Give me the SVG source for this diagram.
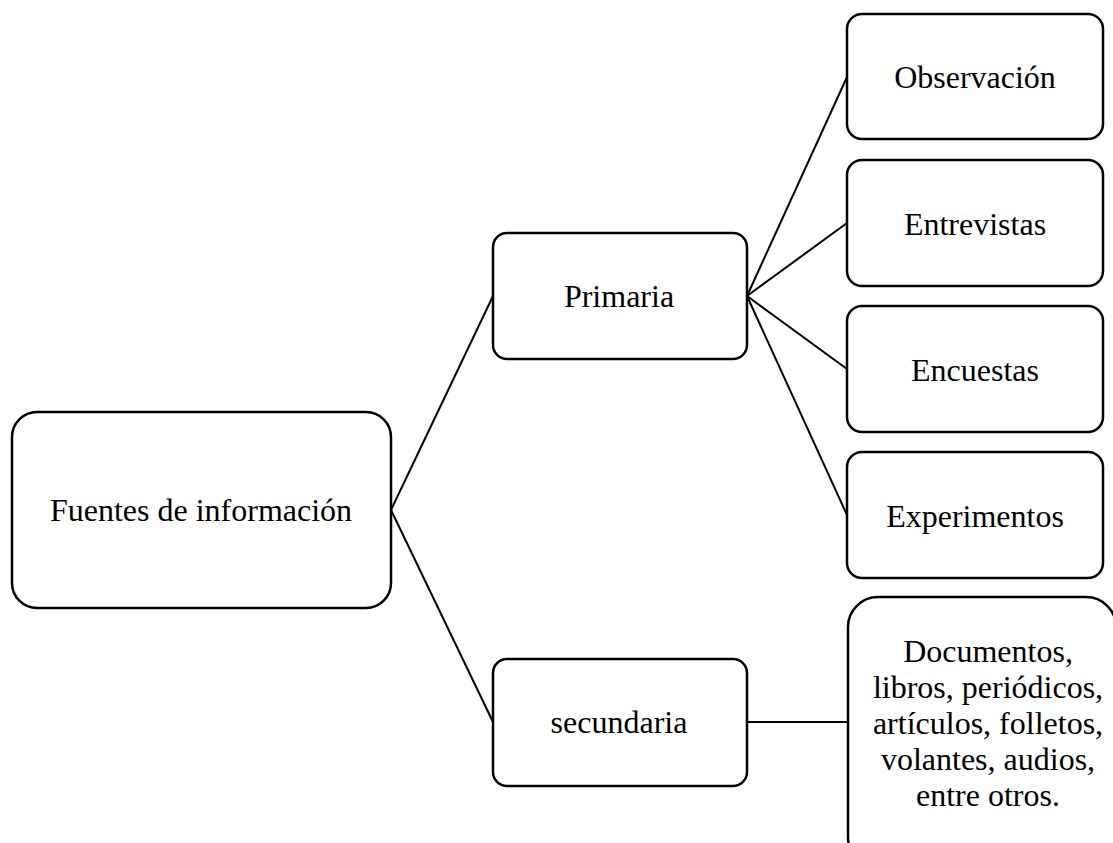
<svg xmlns="http://www.w3.org/2000/svg" width="1113" height="843" viewBox="0 0 1113 843">
<style>
.box{fill:#fff;stroke:#000;stroke-width:2.5}
.t{font-family:"Liberation Serif","Times New Roman",serif;font-size:32px;fill:#000;text-anchor:middle}
.c{stroke:#000;stroke-width:2;fill:none}
</style>
<rect width="1113" height="843" fill="#fff"/>
<g id="connectors">
<line class="c" x1="391" y1="510" x2="493" y2="296"/>
<line class="c" x1="391" y1="510" x2="493" y2="722"/>
<line class="c" x1="747" y1="296" x2="847" y2="77"/>
<line class="c" x1="747" y1="296" x2="847" y2="223"/>
<line class="c" x1="747" y1="296" x2="847" y2="369"/>
<line class="c" x1="747" y1="296" x2="847" y2="515"/>
<line class="c" x1="747" y1="722" x2="848" y2="722"/>
</g>
<g id="root">
<rect class="box" x="12" y="412" width="379" height="196" rx="25"/>
<text class="t" x="201" y="521">Fuentes de información</text>
</g>
<g id="primaria">
<rect class="box" x="493" y="233" width="254" height="126" rx="14"/>
<text class="t" x="619" y="307">Primaria</text>
</g>
<g id="secundaria">
<rect class="box" x="493" y="659" width="254" height="127" rx="14"/>
<text class="t" x="619" y="733">secundaria</text>
</g>
<g id="observacion">
<rect class="box" x="847" y="14" width="256" height="125" rx="15"/>
<text class="t" x="975" y="88">Observación</text>
</g>
<g id="entrevistas">
<rect class="box" x="847" y="160" width="256" height="126" rx="15"/>
<text class="t" x="975" y="235">Entrevistas</text>
</g>
<g id="encuestas">
<rect class="box" x="847" y="306" width="256" height="126" rx="15"/>
<text class="t" x="975" y="381">Encuestas</text>
</g>
<g id="experimentos">
<rect class="box" x="847" y="452" width="256" height="126" rx="15"/>
<text class="t" x="975" y="527">Experimentos</text>
</g>
<g id="documentos">
<rect class="box" x="848" y="597" width="268" height="270" rx="30"/>
<text class="t" x="988" y="662">Documentos,</text>
<text class="t" x="988" y="698">libros, periódicos,</text>
<text class="t" x="988" y="734">artículos, folletos,</text>
<text class="t" x="988" y="770">volantes, audios,</text>
<text class="t" x="988" y="806">entre otros.</text>
</g>
</svg>
